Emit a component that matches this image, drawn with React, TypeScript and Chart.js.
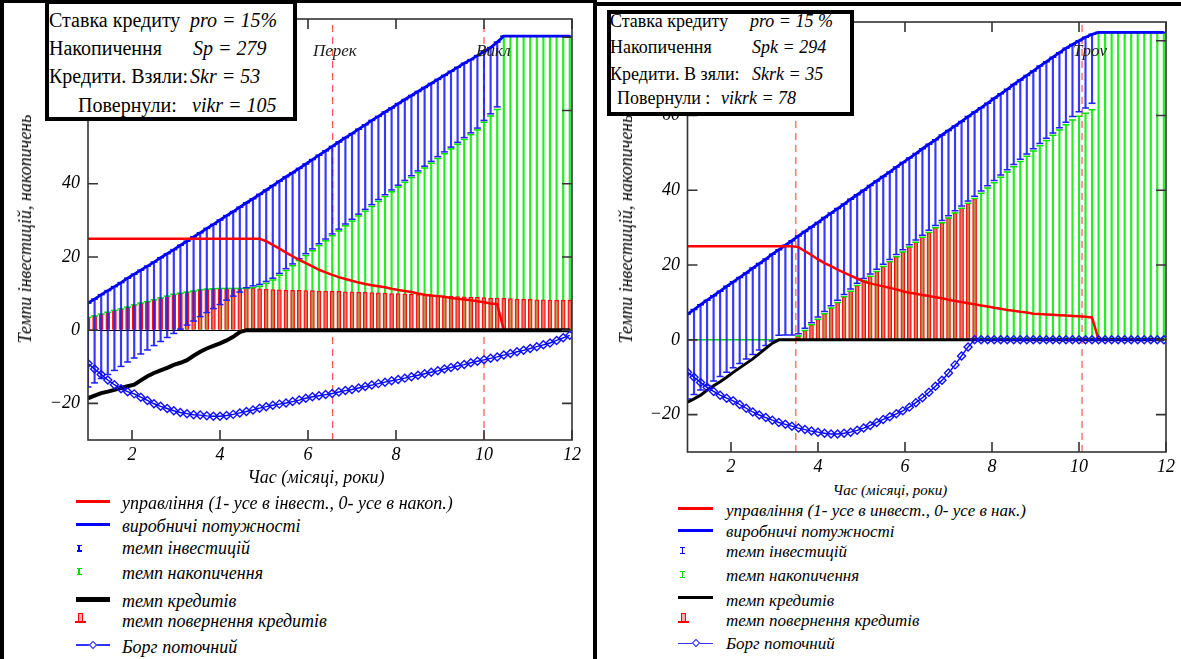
import React, { useEffect, useRef } from 'react';
import { Chart, registerables } from 'chart.js';

Chart.register(...registerables);

const FONT = '"Liberation Serif", "DejaVu Serif", "Noto Serif", Tinos, serif';

// ---- time grid (years) ----
const T = [
  1, 1.15, 1.3, 1.45, 1.6, 1.75, 1.9, 2.05, 2.2, 2.35,
  2.5, 2.65, 2.8, 2.95, 3.1, 3.25, 3.4, 3.55, 3.7, 3.85,
  4, 4.15, 4.3, 4.45, 4.6, 4.75, 4.9, 5.05, 5.2, 5.35,
  5.5, 5.65, 5.8, 5.95, 6.1, 6.25, 6.4, 6.55, 6.7, 6.85,
  7, 7.15, 7.3, 7.45, 7.6, 7.75, 7.9, 8.05, 8.2, 8.35,
  8.5, 8.65, 8.8, 8.95, 9.1, 9.25, 9.4, 9.55, 9.7, 9.85,
  10, 10.15, 10.3, 10.45, 10.6, 10.75, 10.9, 11.05, 11.2, 11.35,
  11.5, 11.65, 11.8, 11.95,
];

// ---- LEFT panel series ----
const capL = [
  7.4, 8.5, 9.7, 10.8, 11.9, 13.0, 14.2, 15.3, 16.4, 17.5,
  18.6, 19.8, 20.9, 22.0, 23.2, 24.3, 25.5, 26.6, 27.8, 28.9,
  30.1, 31.3, 32.4, 33.6, 34.8, 35.9, 37.1, 38.3, 39.5, 40.7,
  41.9, 43.0, 44.2, 45.4, 46.6, 47.8, 49.0, 50.2, 51.4, 52.6,
  53.7, 54.9, 56.1, 57.3, 58.4, 59.6, 60.7, 61.9, 63.0, 64.1,
  65.2, 66.3, 67.4, 68.5, 69.6, 70.7, 71.8, 72.9, 73.9, 75.0,
  76.1, 77.2, 78.7, 80.3, 80.3, 80.3, 80.3, 80.3, 80.3, 80.3,
  80.3, 80.3, 80.3, 80.3,
];
const invLowL = [
  -15.5, -14.4, -13.2, -12.1, -11.0, -9.9, -8.7, -7.6, -6.5, -5.4,
  -4.2, -3.1, -2.0, -0.9, 0.3, 1.4, 2.5, 3.7, 4.8, 5.9,
  7.0, 8.2, 9.3, 10.4, 11.6, 12.1, 12.5, 13.3, 14.2, 15.5,
  16.8, 18.1, 19.5, 20.9, 22.2, 23.6, 24.9, 26.3, 27.6, 29.0,
  30.3, 31.7, 33.0, 34.3, 35.7, 37.0, 38.3, 39.6, 40.9, 42.2,
  43.5, 44.8, 46.1, 47.4, 48.7, 50.0, 51.3, 52.6, 53.9, 55.2,
  57.3, 59.1, 61.0, null, null, null, null, null, null, null,
  null, null, null, null,
];
const accL = [
  3.5, 3.9, 4.4, 4.9, 5.4, 5.8, 6.3, 6.9, 7.4, 7.8,
  8.3, 8.8, 9.3, 9.8, 10.1, 10.4, 10.7, 11.0, 11.2, 11.3,
  11.4, 11.4, 11.4, 11.4, 11.4, 11.6, 12.0, 12.8, 13.7, 15.0,
  16.3, 17.6, 19.0, 20.4, 21.7, 23.1, 24.4, 25.8, 27.1, 28.5,
  29.8, 31.2, 32.5, 33.8, 35.2, 36.5, 37.8, 39.1, 40.4, 41.7,
  43.0, 44.3, 45.6, 46.9, 48.2, 49.5, 50.8, 52.1, 53.4, 54.7,
  56.8, 58.5, 60.3, 80.3, 80.3, 80.3, 80.3, 80.3, 80.3, 80.3,
  80.3, 80.3, 80.3, 80.3,
];
const retL = [
  3.5, 3.9, 4.4, 4.9, 5.4, 5.8, 6.3, 6.9, 7.4, 7.8,
  8.3, 8.8, 9.3, 9.8, 10.1, 10.4, 10.7, 11.0, 11.2, 11.3,
  11.4, 11.4, 11.4, 11.4, 11.4, 11.4, 11.3, 11.2, 11.1, 11.0,
  10.9, 10.9, 10.9, 10.8, 10.8, 10.7, 10.7, 10.6, 10.6, 10.5,
  10.5, 10.4, 10.4, 10.3, 10.2, 10.1, 10.0, 10.0, 9.9, 9.8,
  9.7, 9.6, 9.5, 9.4, 9.3, 9.3, 9.2, 9.1, 9.0, 9.0,
  8.9, 8.8, 8.8, 8.7, 8.6, 8.5, 8.4, 8.4, 8.3, 8.3,
  8.2, 8.2, 8.2, 8.2,
];
const creditL = [
  -18.6, -17.9, -17.2, -16.8, -16.3, -15.8, -15.3, -14.9, -13.7, -12.6,
  -11.7, -11.0, -10.3, -9.5, -8.9, -8.2, -7.0, -5.9, -5.0, -4.3,
  -3.6, -2.8, -1.8, -0.5, 0, 0, 0, 0, 0, 0,
  0, 0, 0, 0, 0, 0, 0, 0, 0, 0,
  0, 0, 0, 0, 0, 0, 0, 0, 0, 0,
  0, 0, 0, 0, 0, 0, 0, 0, 0, 0,
  0, 0, 0, 0, 0, 0, 0, 0, 0, 0,
  0, 0, 0, 0,
];
const controlL = [
  25, 25, 25, 25, 25, 25, 25, 25, 25, 25,
  25, 25, 25, 25, 25, 25, 25, 25, 25, 25,
  25, 25, 25, 25, 25, 25, 25, 24.3, 23.3, 22.3,
  21.2, 20.2, 19.2, 18.3, 17.4, 16.5, 15.8, 15.1, 14.5, 14.0,
  13.5, 13.0, 12.6, 12.3, 12.0, 11.7, 11.3, 11.0, 10.7, 10.4,
  10.0, 9.7, 9.5, 9.3, 9.1, 8.8, 8.6, 8.4, 8.2, 7.9,
  7.6, 7.3, 7.1, 0, 0, 0, 0, 0, 0, 0,
  0, 0, 0, 0,
];
const debtL = [
  -9.1, -10.6, -12.1, -13.6, -14.9, -16.0, -16.8, -17.4, -18.3, -19.2,
  -20.1, -20.8, -21.4, -22.0, -22.5, -22.8, -23.1, -23.2, -23.4, -23.5,
  -23.5, -23.3, -23.0, -22.6, -22.2, -21.8, -21.3, -20.9, -20.5, -20.2,
  -19.9, -19.5, -19.1, -18.6, -18.2, -17.9, -17.6, -17.3, -16.9, -16.5,
  -16.2, -15.8, -15.4, -15.0, -14.6, -14.2, -13.8, -13.5, -13.1, -12.7,
  -12.3, -11.9, -11.5, -11.1, -10.6, -10.2, -9.8, -9.4, -8.9, -8.5,
  -8.1, -7.7, -7.3, -6.8, -6.4, -5.9, -5.5, -5.0, -4.5, -4.0,
  -3.5, -2.8, -2.1, -1.4,
];

// ---- RIGHT panel series ----
const capR = [
  6.9, 8.1, 9.4, 10.6, 11.8, 13.0, 14.3, 15.5, 16.7, 17.9,
  19.2, 20.4, 21.6, 22.9, 24.1, 25.3, 26.5, 27.8, 29.0, 30.2,
  31.4, 32.7, 33.9, 35.1, 36.3, 37.6, 38.8, 40.0, 41.3, 42.5,
  43.7, 44.9, 46.2, 47.4, 48.6, 49.8, 51.1, 52.3, 53.5, 54.8,
  56.0, 57.2, 58.4, 59.7, 60.9, 62.1, 63.3, 64.6, 65.8, 67.0,
  68.3, 69.5, 70.7, 71.9, 73.2, 74.4, 75.6, 76.8, 78.0, 79.0,
  80.0, 80.9, 81.7, 82.2, 82.2, 82.2, 82.2, 82.2, 82.2, 82.2,
  82.2, 82.2, 82.2, 82.2,
];
const invLowR = [
  -15.8, -14.6, -13.4, -12.2, -11.0, -9.8, -8.7, -7.5, -6.3, -5.1,
  -3.9, -2.7, -1.5, -0.3, 1.2, 1.3, 1.3, 1.6, 3.1, 4.6,
  6.1, 7.6, 9.1, 10.6, 12.1, 13.6, 15.1, 16.4, 17.6, 18.9,
  20.2, 21.5, 22.8, 24.1, 25.4, 26.7, 28.0, 29.3, 30.6, 31.9,
  33.2, 34.5, 35.8, 37.1, 38.4, 39.8, 41.2, 42.6, 44.1, 45.5,
  46.9, 48.3, 49.7, 51.1, 52.5, 53.9, 55.3, 56.7, 58.2, 59.7,
  61.0, 62.0, 63.3, null, null, null, null, null, null, null,
  null, null, null, null,
];
const accR = [
  0, 0, 0, 0, 0, 0, 0, 0, 0, 0,
  0, 0, 0, 0, 0, 0, 0, 1.0, 2.5, 4.0,
  5.5, 7.0, 8.5, 10.0, 11.5, 13.0, 14.5, 15.8, 17.0, 18.3,
  19.6, 20.9, 22.2, 23.5, 24.8, 26.1, 27.4, 28.7, 30.0, 31.3,
  32.6, 33.9, 35.2, 36.5, 37.8, 39.2, 40.6, 42.0, 43.5, 44.9,
  46.3, 47.7, 49.1, 50.5, 51.9, 53.3, 54.7, 56.1, 57.5, 58.8,
  59.8, 60.6, 61.5, 82.2, 82.2, 82.2, 82.2, 82.2, 82.2, 82.2,
  82.2, 82.2, 82.2, 82.2,
];
const retR = [
  null, null, null, null, null, null, null, null, null, null,
  null, null, null, null, null, null, null, 1.0, 2.5, 4.0,
  5.5, 7.0, 8.5, 10.0, 11.5, 13.0, 14.5, 15.8, 17.0, 18.3,
  19.6, 20.9, 22.2, 23.5, 24.8, 26.1, 27.4, 28.7, 30.0, 31.3,
  32.6, 33.9, 35.2, 36.5, 37.8, null, null, null, null, null,
  null, null, null, null, null, null, null, null, null, null,
  null, null, null, null, null, null, null, null, null, null,
  null, null, null, null,
];
const creditR = [
  -16.7, -15.8, -14.8, -13.5, -12.3, -11.2, -10.0, -8.7, -7.5, -6.3,
  -5.1, -3.7, -2.3, -0.9, 0, 0, 0, 0, 0, 0,
  0, 0, 0, 0, 0, 0, 0, 0, 0, 0,
  0, 0, 0, 0, 0, 0, 0, 0, 0, 0,
  0, 0, 0, 0, 0, 0, 0, 0, 0, 0,
  0, 0, 0, 0, 0, 0, 0, 0, 0, 0,
  0, 0, 0, 0, 0, 0, 0, 0, 0, 0,
  0, 0, 0, 0,
];
const controlR = [
  25, 25, 25, 25, 25, 25, 25, 25, 25, 25,
  25, 25, 25, 25, 25, 25, 25, 24.8, 23.7, 22.7,
  21.5, 20.5, 19.7, 18.8, 18.0, 17.2, 16.4, 15.6, 15.1, 14.7,
  14.3, 13.9, 13.5, 13.0, 12.6, 12.3, 12.0, 11.7, 11.4, 11.1,
  10.7, 10.4, 10.1, 9.8, 9.5, 9.2, 8.9, 8.6, 8.3, 8.0,
  7.8, 7.5, 7.3, 7.0, 6.9, 6.8, 6.7, 6.6, 6.5, 6.4,
  6.3, 6.2, 6.0, 0, 0, 0, 0, 0, 0, 0,
  0, 0, 0, 0,
];
const debtR = [
  -8.7, -10.0, -11.4, -12.7, -13.8, -14.8, -15.6, -16.3, -17.3, -18.3,
  -19.3, -20.1, -20.8, -21.5, -22.1, -22.6, -23.1, -23.6, -24.0, -24.4,
  -24.7, -25.0, -25.2, -25.2, -25.0, -24.7, -24.2, -23.6, -22.9, -22.1,
  -21.3, -20.6, -19.8, -19.0, -18.0, -16.8, -15.5, -14.0, -12.4, -10.8,
  -8.9, -6.7, -4.3, -1.9, 0, 0, 0, 0, 0, 0,
  0, 0, 0, 0, 0, 0, 0, 0, 0, 0,
  0, 0, 0, 0, 0, 0, 0, 0, 0, 0,
  0, 0, 0, 0,
];

// switching moments (vertical dashed lines)
const switchL = [6.56, 10.0];
const switchR = [3.49, 10.07];

const X_TICKS = [2, 4, 6, 8, 10, 12];
const Y_TICKS = [-20, 0, 20, 40, 60, 80];
const X_MIN = 1;
const X_MAX = 12;
const Y_MIN = -30;
const Y_MAX = 85;

const LEGEND_L = [
  'управління (1- усе в інвест., 0- усе в накоп.)',
  'виробничі потужності',
  'темп інвестицій',
  'темп накопичення',
  'темп кредитів',
  'темп повернення кредитів',
  'Борг поточний',
];
const LEGEND_R = [
  'управління (1- усе в инвест., 0- усе в нак.)',
  'виробничі потужності',
  'темп інвестицій',
  'темп накопичення',
  'темп кредитів',
  'темп повернення кредитів',
  'Борг поточний',
];

const xy = (vals: (number | null)[]) =>
  T.map((t, i) => ({ x: t, y: vals[i] })).filter((d) => d.y !== null);
const span = (lo: (number | null)[], hi: (number | null)[]) =>
  T.map((t, i) => ({ x: t, y: lo[i] === null || hi[i] === null ? null : [lo[i], hi[i]] })).filter(
    (d) => d.y !== null
  );
const fromZero = (vals: (number | null)[]) =>
  T.map((t, i) => ({ x: t, y: vals[i] === null ? null : [0, vals[i]] })).filter((d) => d.y !== null);

const framePlugin = {
  id: 'frameTicks',
  afterDatasetsDraw(chart: any) {
    const { ctx, chartArea: a, scales } = chart;
    ctx.save();
    ctx.strokeStyle = '#333';
    ctx.lineWidth = 1.6;
    ctx.strokeRect(a.left, a.top, a.right - a.left, a.bottom - a.top);
    ctx.beginPath();
    for (const v of Y_TICKS) {
      const y = scales.y.getPixelForValue(v);
      ctx.moveTo(a.left, y);
      ctx.lineTo(a.left + 10, y);
      ctx.moveTo(a.right, y);
      ctx.lineTo(a.right - 10, y);
    }
    for (const v of X_TICKS) {
      const x = scales.x.getPixelForValue(v);
      ctx.moveTo(x, a.bottom);
      ctx.lineTo(x, a.bottom - 10);
      ctx.moveTo(x, a.top);
      ctx.lineTo(x, a.top + 10);
    }
    ctx.stroke();
    ctx.restore();
  },
};

type Panel = {
  cap: number[];
  inv: (number | null)[];
  acc: number[];
  ret: (number | null)[];
  credit: number[];
  control: number[];
  debt: number[];
  switches: number[];
  creditW: number;
  left: number;
  top: number;
  width: number;
  height: number;
  yAxisW: number;
  xAxisH: number;
  padTop: number;
  padRight: number;
  yPad: number;
};

function buildConfig(p: Panel): any {
  const tickFont = { family: FONT, size: 18, style: 'italic' as const };
  const datasets: any[] = [
    {
      type: 'line', data: xy(p.debt), borderColor: '#0000ff', borderWidth: 1.4,
      pointStyle: 'rectRot', pointRadius: 4, pointBorderWidth: 1.4,
      pointBorderColor: '#1010ff', pointBackgroundColor: 'rgba(255,255,255,0)', order: 1,
    },
    { type: 'line', data: xy(p.credit), borderColor: '#000', borderWidth: p.creditW, pointRadius: 0, order: 2 },
    { type: 'line', data: xy(p.control), borderColor: '#ff0000', borderWidth: 2.5, pointRadius: 0, order: 3 },
    {
      type: 'line', data: xy(p.cap), borderColor: '#0000ff', borderWidth: 2.8,
      pointStyle: 'line', pointRadius: 3.5, pointBorderWidth: 1.5, pointBorderColor: '#0000ff', order: 4,
    },
    {
      type: 'line', data: xy(p.inv), showLine: false, pointStyle: 'line', pointRadius: 3.5,
      pointBorderWidth: 1.5, pointBorderColor: '#2020ff', order: 5,
    },
    {
      type: 'bar', data: span(p.inv, p.cap), backgroundColor: 'rgba(20,20,255,0.85)',
      barThickness: 1.5, grouped: false, order: 6,
    },
    {
      type: 'line', data: xy(p.acc), showLine: false, pointStyle: 'line', pointRadius: 3.5,
      pointBorderWidth: 1.5, pointBorderColor: '#00e000', order: 7,
    },
    {
      type: 'bar', data: fromZero(p.ret), backgroundColor: 'rgba(255,110,110,0.6)',
      borderColor: '#ff0000', borderWidth: 1, barThickness: 4, grouped: false, order: 8,
    },
    {
      type: 'bar', data: fromZero(p.acc), backgroundColor: '#22ee22',
      barThickness: 1.5, grouped: false, order: 9,
    },
    ...p.switches.map((s) => ({
      type: 'line',
      data: [{ x: s, y: Y_MIN }, { x: s, y: Y_MAX }],
      borderColor: 'rgba(255,50,50,0.85)', borderWidth: 1.2, borderDash: [7, 5], pointRadius: 0, order: 10,
    })),
  ];
  return {
    type: 'bar',
    data: { datasets },
    options: {
      animation: false,
      responsive: false,
      maintainAspectRatio: false,
      events: [],
      layout: { padding: { top: p.padTop, right: p.padRight, left: 0, bottom: 0 } },
      plugins: { legend: { display: false }, tooltip: { enabled: false }, title: { display: false } },
      scales: {
        x: {
          type: 'linear', min: X_MIN, max: X_MAX, offset: false,
          border: { display: false },
          grid: { display: false, drawTicks: false },
          ticks: { color: '#000', font: tickFont, padding: 4, maxRotation: 0, autoSkip: false },
          afterBuildTicks: (s: any) => { s.ticks = X_TICKS.map((v) => ({ value: v })); },
          afterFit: (s: any) => { s.height = p.xAxisH; },
        },
        y: {
          type: 'linear', min: Y_MIN, max: Y_MAX,
          border: { display: false },
          grid: {
            drawTicks: false, lineWidth: 1,
            color: (c: any) => (c.tick && c.tick.value === 0 ? '#000' : 'rgba(0,0,0,0)'),
          },
          ticks: {
            color: '#000', font: tickFont, padding: p.yPad,
            callback: (v: any) => (v < 0 ? '\u2212' + Math.abs(v) : String(v)),
          },
          afterBuildTicks: (s: any) => { s.ticks = Y_TICKS.map((v) => ({ value: v })); },
          afterFit: (s: any) => { s.width = p.yAxisW; },
        },
      },
    },
    plugins: [framePlugin],
  };
}

function ChartPanel({ p }: { p: Panel }) {
  const ref = useRef<HTMLCanvasElement | null>(null);
  useEffect(() => {
    const chart = new Chart(ref.current as HTMLCanvasElement, buildConfig(p));
    return () => chart.destroy();
  }, []);
  return (
    <canvas
      ref={ref}
      width={p.width}
      height={p.height}
      style={{ position: 'absolute', left: p.left, top: p.top, width: p.width, height: p.height }}
    />
  );
}

function Txt(props: { x: number; base: number; size: number; italic?: boolean; color?: string; center?: boolean; children: any }) {
  const { x, base, size, italic, color, center, children } = props;
  return (
    <div
      style={{
        position: 'absolute', left: x, top: base - 0.891 * size, fontSize: size,
        lineHeight: `${1.107 * size}px`, fontStyle: italic ? 'italic' : 'normal',
        whiteSpace: 'nowrap', color: color || '#000', fontFamily: FONT,
        transform: center ? 'translateX(-50%)' : undefined,
      }}
    >
      {children}
    </div>
  );
}

function Box(props: { l: number; t: number; w: number; h: number; bg: string; border?: string }) {
  return (
    <div
      style={{
        position: 'absolute', left: props.l, top: props.t, width: props.w, height: props.h,
        background: props.bg, border: props.border, boxSizing: 'border-box',
      }}
    />
  );
}

function IBar({ x, y, color }: { x: number; y: number; color: string }) {
  return (
    <>
      <Box l={x - 2.5} t={y - 3.5} w={5} h={1.3} bg={color} />
      <Box l={x - 0.6} t={y - 3.5} w={1.3} h={7} bg={color} />
      <Box l={x - 2.5} t={y + 2.3} w={5} h={1.3} bg={color} />
    </>
  );
}

function RetIcon({ x, y }: { x: number; y: number }) {
  return (
    <>
      <Box l={x - 2.5} t={y - 5} w={5} h={9} bg="rgba(255,110,110,0.6)" border="1px solid #ff0000" />
      <Box l={x - 5.5} t={y + 3} w={11} h={1.5} bg="#ff0000" />
    </>
  );
}

function DiamondLine({ x0, x1, y, cx }: { x0: number; x1: number; y: number; cx: number }) {
  return (
    <>
      <Box l={x0} t={y - 0.75} w={x1 - x0} h={1.5} bg="#3333ff" />
      <div
        style={{
          position: 'absolute', left: cx - 3, top: y - 3, width: 6, height: 6,
          border: '1.2px solid #2020ff', background: '#fff', transform: 'rotate(45deg)', boxSizing: 'border-box',
        }}
      />
    </>
  );
}

function Legend(props: {
  texts: string[]; x0: number; x1: number; tx: number; size: number;
  bases: number[]; icons: number[]; ix: number; blackH: number;
}) {
  const { texts, x0, x1, tx, size, bases, icons, ix, blackH } = props;
  return (
    <>
      <Box l={x0} t={icons[0] - 1.5} w={x1 - x0} h={3} bg="#ff0000" />
      <Box l={x0} t={icons[1] - 1.5} w={x1 - x0} h={3} bg="#0000ff" />
      <IBar x={ix} y={icons[2]} color="#0000ff" />
      <IBar x={ix} y={icons[3]} color="#00dd00" />
      <Box l={x0} t={icons[4] - blackH / 2} w={x1 - x0} h={blackH} bg="#000" />
      <RetIcon x={ix + 1} y={icons[5]} />
      <DiamondLine x0={x0} x1={x1} y={icons[6]} cx={(x0 + x1) / 2} />
      {texts.map((s, i) => (
        <Txt key={i} x={tx} base={bases[i]} size={size} italic>
          {s}
        </Txt>
      ))}
    </>
  );
}

const leftPanel: Panel = {
  cap: capL, inv: invLowL, acc: accL, ret: retL, credit: creditL, control: controlL, debt: debtL,
  switches: switchL, creditW: 4,
  left: 4, top: 0, width: 590, height: 470, yAxisW: 84, xAxisH: 30, padTop: 19, padRight: 22, yPad: 8,
};
const rightPanel: Panel = {
  cap: capR, inv: invLowR, acc: accR, ret: retR, credit: creditR, control: controlR, debt: debtR,
  switches: switchR, creditW: 3,
  left: 597, top: 0, width: 584, height: 480, yAxisW: 90.5, xAxisH: 28, padTop: 22, padRight: 15, yPad: 7.5,
};

export default function App() {
  return (
    <div
      style={{
        position: 'fixed', left: 0, top: 0, width: 1181, height: 659, background: '#fff',
        overflow: 'hidden', fontFamily: FONT,
      }}
    >
      <ChartPanel p={leftPanel} />
      <ChartPanel p={rightPanel} />

      {/* cell frame lines */}
      <Box l={0} t={0} w={4} h={659} bg="#000" />
      <Box l={0} t={0} w={597} h={3} bg="#000" />
      <Box l={593} t={0} w={4} h={659} bg="#000" />
      <Box l={593} t={2} w={588} h={4} bg="#000" />

      {/* y-axis titles */}
      <div
        style={{
          position: 'absolute', left: 25, top: 229, transform: 'translate(-50%, -50%) rotate(-90deg)',
          fontSize: 18, fontStyle: 'italic', whiteSpace: 'nowrap', fontFamily: FONT, lineHeight: 1,
        }}
      >
        Темпи інвестицій, накопичень
      </div>
      <div
        style={{
          position: 'absolute', left: 626, top: 229, transform: 'translate(-50%, -50%) rotate(-90deg)',
          fontSize: 18, fontStyle: 'italic', whiteSpace: 'nowrap', fontFamily: FONT, lineHeight: 1,
        }}
      >
        Темпи інвестицій, накопичень
      </div>

      {/* switch labels */}
      <Txt x={313} base={57} size={17} italic color="#222">Перек</Txt>
      <Txt x={476} base={57} size={17} italic color="#222">Викл</Txt>
      <Txt x={1073} base={57} size={17} italic color="#222">Tpov</Txt>

      {/* x-axis titles */}
      <Txt x={316} base={484} size={18} italic center>Час (місяці, роки)</Txt>
      <Txt x={890} base={495} size={15} italic center>Час (місяці, роки)</Txt>

      {/* info box left */}
      <Box l={45} t={0} w={252} h={121} bg="#fff" border="4px solid #000" />
      <Txt x={49} base={27} size={20}>Ставка кредиту</Txt>
      <Txt x={190} base={27} size={20} italic>pro = 15%</Txt>
      <Txt x={49} base={55} size={20}>Накопичення</Txt>
      <Txt x={193} base={55} size={20} italic>Sp = 279</Txt>
      <Txt x={49} base={83} size={20}>Кредити. Взяли:</Txt>
      <Txt x={190} base={83} size={20} italic>Skr = 53</Txt>
      <Txt x={78} base={112} size={20}>Повернули:</Txt>
      <Txt x={192} base={112} size={20} italic>vikr = 105</Txt>

      {/* info box right */}
      <Box l={607} t={10} w={247} h={106} bg="#fff" border="4px solid #000" />
      <Txt x={610} base={28} size={18}>Ставка кредиту</Txt>
      <Txt x={750} base={28} size={18} italic>pro = 15 %</Txt>
      <Txt x={610} base={54.5} size={18}>Накопичення</Txt>
      <Txt x={752} base={54.5} size={18} italic>Spk = 294</Txt>
      <Txt x={610} base={81} size={18}>Кредити. В зяли:</Txt>
      <Txt x={752} base={81} size={18} italic>Skrk = 35</Txt>
      <Txt x={617} base={105.5} size={18}>Повернули :</Txt>
      <Txt x={721} base={105.5} size={18} italic>vikrk = 78</Txt>

      {/* legends */}
      <Legend
        texts={LEGEND_L} x0={76} x1={110} tx={122} size={18} ix={79} blackH={5}
        bases={[510, 533, 555, 580, 608, 628, 654]}
        icons={[501, 524.3, 548, 571.5, 599, 618, 645]}
      />
      <Legend
        texts={LEGEND_R} x0={678} x1={713} tx={726} size={17} ix={682.5} blackH={3}
        bases={[516.7, 538.3, 558.3, 581.7, 606.7, 626.7, 650]}
        icons={[508.3, 530.7, 550.7, 574.2, 597.8, 618, 643.3]}
      />
    </div>
  );
}
